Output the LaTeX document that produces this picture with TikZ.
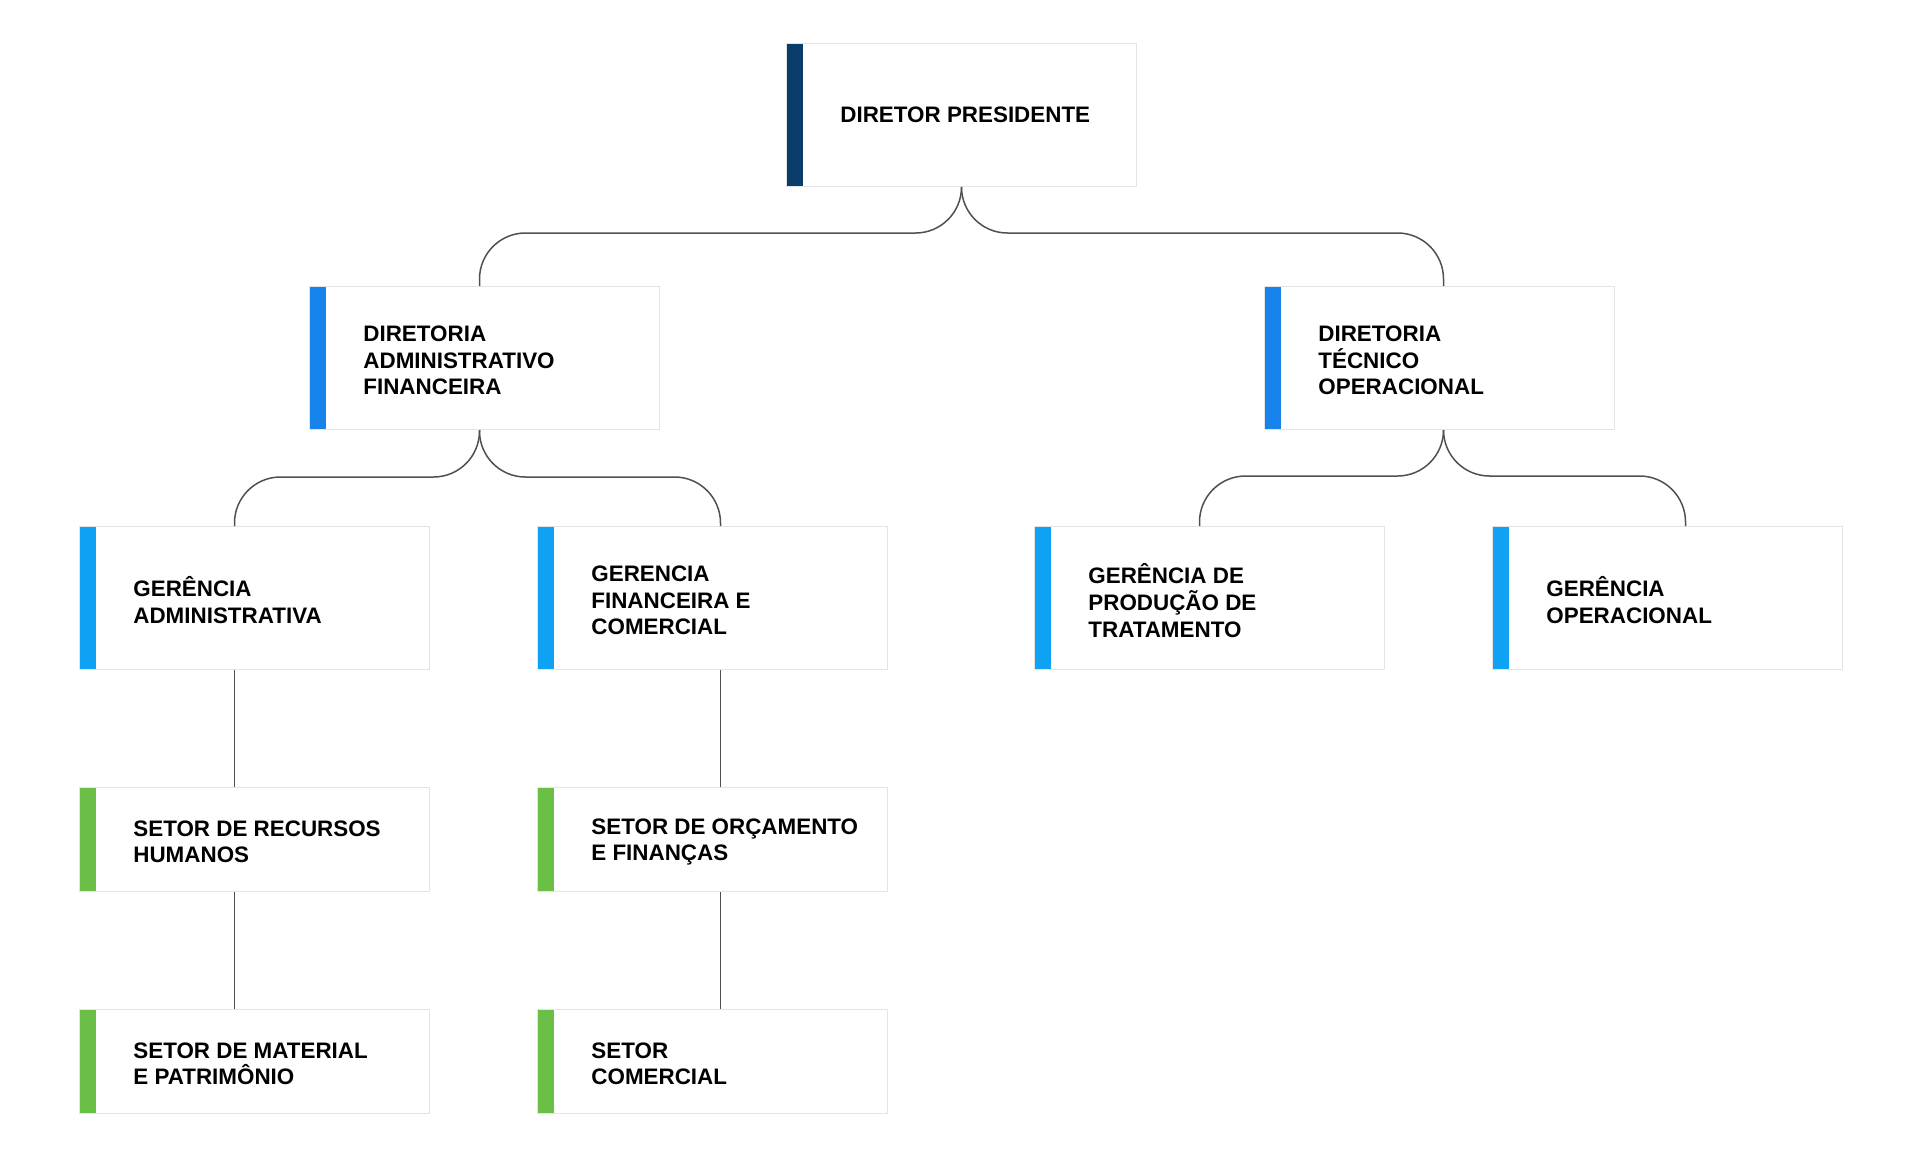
\documentclass[tikz,border=0pt]{standalone}
\usepackage{fontspec}
\setmainfont{Liberation Sans}

\definecolor{barnavy}{HTML}{0B3D6A}
\definecolor{bardir}{HTML}{1684EC}
\definecolor{barger}{HTML}{0EA1F4}
\definecolor{barlime}{HTML}{6BBE46}
\definecolor{boxline}{HTML}{E4E4E4}
\definecolor{linegray}{HTML}{505050}

\tikzset{
  box/.style={rectangle, draw=boxline, line width=0.5pt, fill=white, inner sep=0pt,
    minimum width=175pt, minimum height=71.5pt, anchor=north west,
    path picture={\fill[#1] (path picture bounding box.north west) rectangle ([xshift=8pt]path picture bounding box.south west);}},
  setor/.style={box=barlime, minimum height=52pt},
  txt/.style={anchor=west, xshift=27pt, yshift=-1.2pt, align=left, inner sep=0pt, text=black,
    font=\bfseries\fontsize{11.2}{13.35}\selectfont},
  link/.style={draw=linegray, line width=0.75pt, rounded corners=23pt}
}

\begin{document}
\begin{tikzpicture}[x=0.5pt, y=-0.5pt]
    \fill[white] (0,0) rectangle (1920,1158);
    \useasboundingbox (0,0) rectangle (1920,1158);

    % top
    \node[box=barnavy] (pres) at (786,43) [label={[txt, yshift=1.2pt]west:DIRETOR PRESIDENTE}] {};

    % diretorias
    \node[box=bardir] (dadm) at (309,286) [label={[txt]west:{DIRETORIA\\ADMINISTRATIVO\\FINANCEIRA}}] {};
    \node[box=bardir] (dtec) at (1264,286) [label={[txt]west:{DIRETORIA\\TÉCNICO\\OPERACIONAL}}] {};

    % gerencias
    \node[box=barger] (gadm) at (79,526) [label={[txt]west:{GERÊNCIA\\ADMINISTRATIVA}}] {};
    \node[box=barger] (gfin) at (537,526) [label={[txt]west:{GERENCIA\\FINANCEIRA E\\COMERCIAL}}] {};
    \node[box=barger] (gprod) at (1034,526) [label={[txt]west:{GERÊNCIA DE\\PRODUÇÃO DE\\TRATAMENTO}}] {};
    \node[box=barger] (gop) at (1492,526) [label={[txt]west:{GERÊNCIA\\OPERACIONAL}}] {};

    % setores
    \node[setor] (srh) at (79,787) [label={[txt]west:{SETOR DE RECURSOS\\HUMANOS}}] {};
    \node[setor] (smat) at (79,1009) [label={[txt]west:{SETOR DE MATERIAL\\E PATRIMÔNIO}}] {};
    \node[setor] (sorc) at (537,787) [label={[txt]west:{SETOR DE ORÇAMENTO\\E FINANÇAS}}] {};
    \node[setor] (scom) at (537,1009) [label={[txt]west:{SETOR\\COMERCIAL}}] {};

    % links
    \draw[link] (pres.south) -- ++(0,46) -| ([xshift=-2.5pt]dadm.north);
    \draw[link] (pres.south) -- ++(0,46) -| ([xshift=2pt]dtec.north);
    \draw[link] ([xshift=-2.5pt]dadm.south) -- ++(0,47) -| ([xshift=-10pt]gadm.north);
    \draw[link] ([xshift=-2.5pt]dadm.south) -- ++(0,47) -| ([xshift=4pt]gfin.north);
    \draw[link] ([xshift=2pt]dtec.south) -- ++(0,46) -| ([xshift=-5pt]gprod.north);
    \draw[link] ([xshift=2pt]dtec.south) -- ++(0,46) -| ([xshift=9pt]gop.north);
    \draw[link] ([xshift=-10pt]gadm.south) -- ([xshift=-10pt]srh.north);
    \draw[link] ([xshift=-10pt]srh.south) -- ([xshift=-10pt]smat.north);
    \draw[link] ([xshift=4pt]gfin.south) -- ([xshift=4pt]sorc.north);
    \draw[link] ([xshift=4pt]sorc.south) -- ([xshift=4pt]scom.north);
\end{tikzpicture}
\end{document}
